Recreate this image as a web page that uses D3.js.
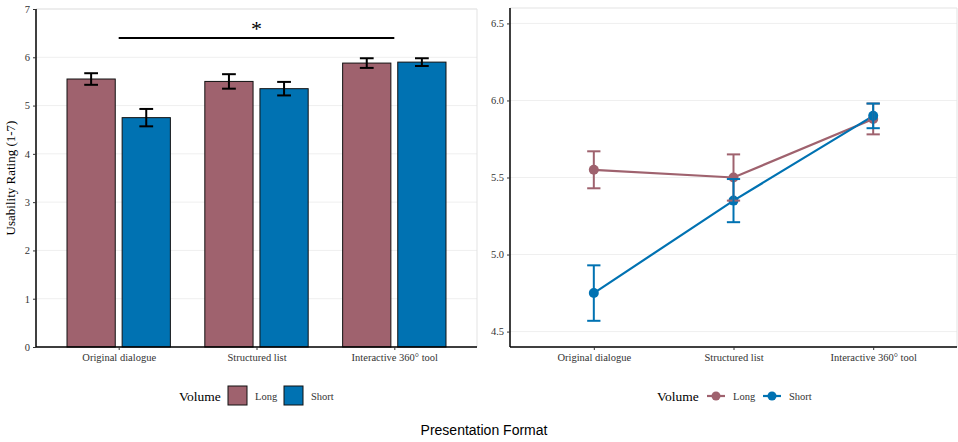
<!DOCTYPE html>
<html>
<head>
<meta charset="utf-8">
<script src="https://cdn.jsdelivr.net/npm/d3@7/dist/d3.min.js"></script>
<style>
  body { margin: 0; background: #fff; }
  svg { display: block; }
</style>
</head>
<body>
<svg id="chart" width="958" height="442"></svg>
<script>
// data
const formats = ['Original dialogue', 'Structured list', 'Interactive 360° tool'];
const volumes = ['Long', 'Short'];
const longMean = [5.55, 5.50, 5.88];
const longSE = [0.12, 0.15, 0.10];
const shortMean = [4.75, 5.35, 5.90];
const shortSE = [0.18, 0.14, 0.08];
const colors = { Long: '#9f626e', Short: '#0072b2' };

const rows = [];
formats.forEach(function (f, i) {
    rows.push({ format: f, volume: 'Long', mean: longMean[i], se: longSE[i] });
    rows.push({ format: f, volume: 'Short', mean: shortMean[i], se: shortSE[i] });
});

const svg = d3.select('#chart');
const serif = '"Liberation Serif", "Times New Roman", serif';
const tickColor = '#333';
const tickSize = '10.5px';

// ---------- left panel : bars ----------
const L = { left: 36, right: 477, top: 9, bottom: 347 };
const gL = svg.append('g');

// discrete x scale with ggplot-like 0.6 expand
const xL = d3.scalePoint().domain(formats).range([L.left, L.right]).padding(0.6);
const unitL = xL.step();
const yL = d3.scaleLinear().domain([0, 7]).range([L.bottom, L.top]);

// grid
gL.selectAll('.grid').data(yL.ticks(7)).enter().append('line')
    .attr('x1', L.left).attr('x2', L.right)
    .attr('y1', d => yL(d)).attr('y2', d => yL(d))
    .attr('stroke', '#efefef').attr('stroke-width', 1);
// light panel border (top + right)
gL.append('path')
    .attr('d', `M${L.left},${L.top}H${L.right}V${L.bottom}`)
    .attr('fill', 'none').attr('stroke', '#e3e3e3');

const dodge = d => (d.volume === 'Long' ? -0.2 : 0.2) * unitL;
const barW = 0.35 * unitL;

gL.selectAll('.bar').data(rows).enter().append('rect')
    .attr('x', d => xL(d.format) + dodge(d) - barW / 2)
    .attr('y', d => yL(d.mean))
    .attr('width', barW)
    .attr('height', d => yL(0) - yL(d.mean))
    .attr('fill', d => colors[d.volume])
    .attr('stroke', '#111').attr('stroke-width', 1);

// error bars
const capL = 0.1 * unitL;
rows.forEach(function (d) {
    const cx = xL(d.format) + dodge(d);
    const g = gL.append('g').attr('stroke', '#000').attr('stroke-width', 2);
    g.append('line').attr('x1', cx).attr('x2', cx).attr('y1', yL(d.mean - d.se)).attr('y2', yL(d.mean + d.se));
    g.append('line').attr('x1', cx - capL / 2).attr('x2', cx + capL / 2).attr('y1', yL(d.mean - d.se)).attr('y2', yL(d.mean - d.se));
    g.append('line').attr('x1', cx - capL / 2).attr('x2', cx + capL / 2).attr('y1', yL(d.mean + d.se)).attr('y2', yL(d.mean + d.se));
});

// significance bracket
gL.append('line')
    .attr('x1', xL(formats[0])).attr('x2', xL(formats[2]))
    .attr('y1', yL(6.4)).attr('y2', yL(6.4))
    .attr('stroke', '#000').attr('stroke-width', 2);
gL.append('text')
    .attr('x', xL(formats[1])).attr('y', yL(6.4) - 2)
    .attr('text-anchor', 'middle')
    .style('font-family', serif).style('font-size', '22px')
    .text('*');

// axes
const axL = gL.append('g').attr('transform', `translate(${L.left},0)`)
    .call(d3.axisLeft(yL).ticks(7).tickSize(3).tickPadding(3));
const axBL = gL.append('g').attr('transform', `translate(0,${L.bottom})`)
    .call(d3.axisBottom(xL).tickSize(3).tickPadding(4));
[axL, axBL].forEach(function (a) {
    a.select('.domain').attr('stroke', '#000').attr('stroke-width', 1.5);
    a.selectAll('.tick line').attr('stroke', '#333');
    a.selectAll('text').style('font-family', serif).style('font-size', tickSize).attr('fill', tickColor);
});
axL.select('.domain').attr('d', `M0,${L.bottom}V${L.top}`);
axBL.select('.domain').attr('d', `M${L.left},0H${L.right}`);

gL.append('text')
    .attr('transform', `translate(15,${(L.top + L.bottom) / 2}) rotate(-90)`)
    .attr('text-anchor', 'middle')
    .style('font-family', serif).style('font-size', '13px')
    .text('Usability Rating (1-7)');

// legend left
const legL = gL.append('g').attr('transform', 'translate(179,396)');
legL.append('text').attr('x', 0).attr('y', 5)
    .style('font-family', serif).style('font-size', '13.5px').text('Volume');
[[49, 'Long', 76], [105, 'Short', 132]].forEach(function (k) {
    legL.append('rect').attr('x', k[0]).attr('y', -10).attr('width', 19).attr('height', 19)
        .attr('fill', colors[k[1]]).attr('stroke', '#111');
    legL.append('text').attr('x', k[2]).attr('y', 4)
        .style('font-family', serif).style('font-size', tickSize).attr('fill', tickColor).text(k[1]);
});

// ---------- right panel : lines ----------
const R = { left: 510, right: 957, top: 8, bottom: 347 };
const gR = svg.append('g');
const xR = d3.scalePoint().domain(formats).range([R.left, R.right]).padding(0.6);
const unitR = xR.step();
const yR = d3.scaleLinear().domain([4.4, 6.6]).range([R.bottom, R.top]);
const yTicksR = [4.5, 5.0, 5.5, 6.0, 6.5];

gR.selectAll('.grid').data(yTicksR).enter().append('line')
    .attr('x1', R.left).attr('x2', R.right)
    .attr('y1', d => yR(d)).attr('y2', d => yR(d))
    .attr('stroke', '#efefef').attr('stroke-width', 1);
gR.append('path')
    .attr('d', `M${R.left},${R.top}H${R.right}V${R.bottom}`)
    .attr('fill', 'none').attr('stroke', '#e3e3e3');

const line = d3.line().x(d => xR(d.format)).y(d => yR(d.mean));
volumes.forEach(function (v) {
    gR.append('path').datum(rows.filter(d => d.volume === v))
        .attr('d', line).attr('fill', 'none')
        .attr('stroke', colors[v]).attr('stroke-width', 2.2);
});
volumes.forEach(function (v) {
    gR.selectAll('.pt-' + v).data(rows.filter(d => d.volume === v)).enter().append('circle')
        .attr('cx', d => xR(d.format)).attr('cy', d => yR(d.mean)).attr('r', 5)
        .attr('fill', colors[v]);
});
const capR = 0.095 * unitR;
volumes.forEach(function (v) {
    rows.filter(d => d.volume === v).forEach(function (d) {
        const cx = xR(d.format);
        const g = gR.append('g').attr('stroke', colors[v]).attr('stroke-width', 2);
        g.append('line').attr('x1', cx).attr('x2', cx).attr('y1', yR(d.mean - d.se)).attr('y2', yR(d.mean + d.se));
        g.append('line').attr('x1', cx - capR / 2).attr('x2', cx + capR / 2).attr('y1', yR(d.mean - d.se)).attr('y2', yR(d.mean - d.se));
        g.append('line').attr('x1', cx - capR / 2).attr('x2', cx + capR / 2).attr('y1', yR(d.mean + d.se)).attr('y2', yR(d.mean + d.se));
    });
});

const axR = gR.append('g').attr('transform', `translate(${R.left},0)`)
    .call(d3.axisLeft(yR).tickValues(yTicksR).tickFormat(d3.format('.1f')).tickSize(3).tickPadding(3));
const axBR = gR.append('g').attr('transform', `translate(0,${R.bottom})`)
    .call(d3.axisBottom(xR).tickSize(3).tickPadding(4));
[axR, axBR].forEach(function (a) {
    a.select('.domain').attr('stroke', '#000').attr('stroke-width', 1.5);
    a.selectAll('.tick line').attr('stroke', '#333');
    a.selectAll('text').style('font-family', serif).style('font-size', tickSize).attr('fill', tickColor);
});
axR.select('.domain').attr('d', `M0,${R.bottom}V${R.top}`);
axBR.select('.domain').attr('d', `M${R.left},0H${R.right}`);

// legend right
const legR = gR.append('g').attr('transform', 'translate(657,396)');
legR.append('text').attr('x', 0).attr('y', 5)
    .style('font-family', serif).style('font-size', '13.5px').text('Volume');
[[50, 'Long', 76], [106, 'Short', 132]].forEach(function (k) {
    legR.append('line').attr('x1', k[0]).attr('x2', k[0] + 18).attr('y1', 0).attr('y2', 0)
        .attr('stroke', colors[k[1]]).attr('stroke-width', 2.2);
    legR.append('circle').attr('cx', k[0] + 9).attr('cy', 0).attr('r', 4.5).attr('fill', colors[k[1]]);
    legR.append('text').attr('x', k[2]).attr('y', 4)
        .style('font-family', serif).style('font-size', tickSize).attr('fill', tickColor).text(k[1]);
});

// shared x title
svg.append('text')
    .attr('x', 484).attr('y', 435)
    .attr('text-anchor', 'middle')
    .style('font-family', '"Liberation Sans", Arial, sans-serif').style('font-size', '14px')
    .text('Presentation Format');
</script>
</body>
</html>
